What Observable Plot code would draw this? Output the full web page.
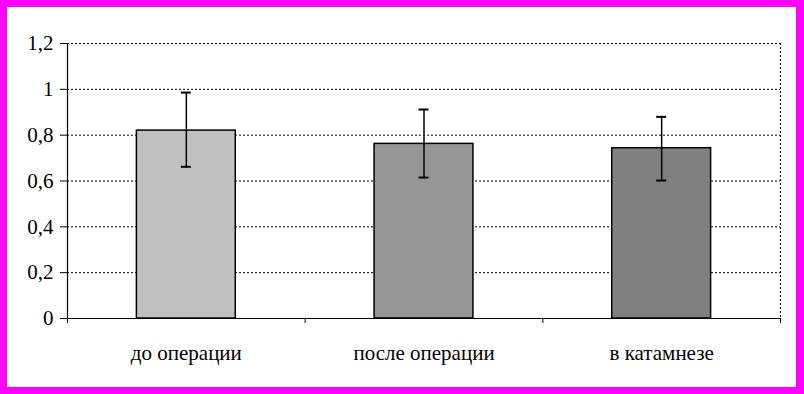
<!DOCTYPE html>
<html>
<head>
<meta charset="utf-8">
<script src="https://cdn.jsdelivr.net/npm/d3@7"></script>
<script src="https://cdn.jsdelivr.net/npm/@observablehq/plot@0.6"></script>
<style>
  html, body { margin: 0; padding: 0; background: #fff; }
  #wrap { position: relative; width: 804px; height: 394px; overflow: hidden; }
  #border { position: absolute; left: 0; top: 0; width: 804px; height: 394px; box-sizing: border-box;
    border-style: solid; border-color: #ff00ff; border-width: 7px 8px 7px 7px; pointer-events: none; }
  svg { display: block; }
  svg text { font-family: "Liberation Serif", "Times New Roman", serif !important; }
</style>
</head>
<body>
<div id="wrap"><div id="border"></div></div>
<script>
const categories = ["до операции", "после операции", "в катамнезе"];
const means = [0.82, 0.762, 0.743];
const errLow = [0.662, 0.615, 0.602];
const errHigh = [0.986, 0.912, 0.88];
const barColors = ["#c0c0c0", "#969696", "#808080"];
const yTicks = [0, 0.2, 0.4, 0.6, 0.8, 1, 1.2];
const yTickLabels = ["0", "0,2", "0,4", "0,6", "0,8", "1", "1,2"];

const half = 0.208;
const cap = 0.021;
const data = categories.map((c, i) => ({
  cat: c, pos: i + 0.5, x1: i + 0.5 - half, x2: i + 0.5 + half,
  v: means[i], lo: errLow[i], hi: errHigh[i], color: barColors[i]
}));
const boundaries = d3.range(categories.length + 1);
const serif = "Liberation Serif, Times New Roman, serif";

const chart = Plot.plot({
  width: 804,
  height: 394,
  marginLeft: 67,
  marginRight: 24,
  marginTop: 43,
  marginBottom: 76,
  style: { fontFamily: serif, fontSize: "21px", color: "#000", background: "#fff" },
  x: { domain: [0, categories.length], axis: null },
  y: { domain: [0, 1.2], axis: null },
  marks: [
    Plot.ruleY(yTicks.filter(t => t > 0), { stroke: "#000", strokeWidth: 1, strokeDasharray: "2,2" }),
    Plot.ruleX([categories.length], { stroke: "#000", strokeWidth: 1, strokeDasharray: "2,2" }),
    Plot.rect(data, { x1: "x1", x2: "x2", y1: 0, y2: "v", fill: "color", stroke: "#000", strokeWidth: 1.5 }),
    Plot.ruleX(data, { x: "pos", y1: "lo", y2: "hi", stroke: "#000", strokeWidth: 1.5 }),
    Plot.ruleY(data, { x1: d => d.pos - cap, x2: d => d.pos + cap, y: "lo", stroke: "#000", strokeWidth: 2 }),
    Plot.ruleY(data, { x1: d => d.pos - cap, x2: d => d.pos + cap, y: "hi", stroke: "#000", strokeWidth: 2 }),
    Plot.ruleX([0], { stroke: "#000", strokeWidth: 1.2 }),
    Plot.ruleY([0], { stroke: "#000", strokeWidth: 1.2 }),
    Plot.axisY({ ticks: yTicks, tickFormat: (d, i) => yTickLabels[i], tickSize: 7, tickPadding: 7, strokeWidth: 1, fontSize: 21, fontFamily: serif }),
    Plot.axisX({ ticks: boundaries, tickFormat: () => "", tickSize: 5, tickPadding: 0, strokeWidth: 1 }),
    Plot.axisX({ ticks: data.map(d => d.pos), tickFormat: (d, i) => categories[i], tickSize: 0, tickPadding: 27, fontSize: 21, fontFamily: serif })
  ]
});
document.getElementById("wrap").insertBefore(chart, document.getElementById("border"));
</script>
</body>
</html>
